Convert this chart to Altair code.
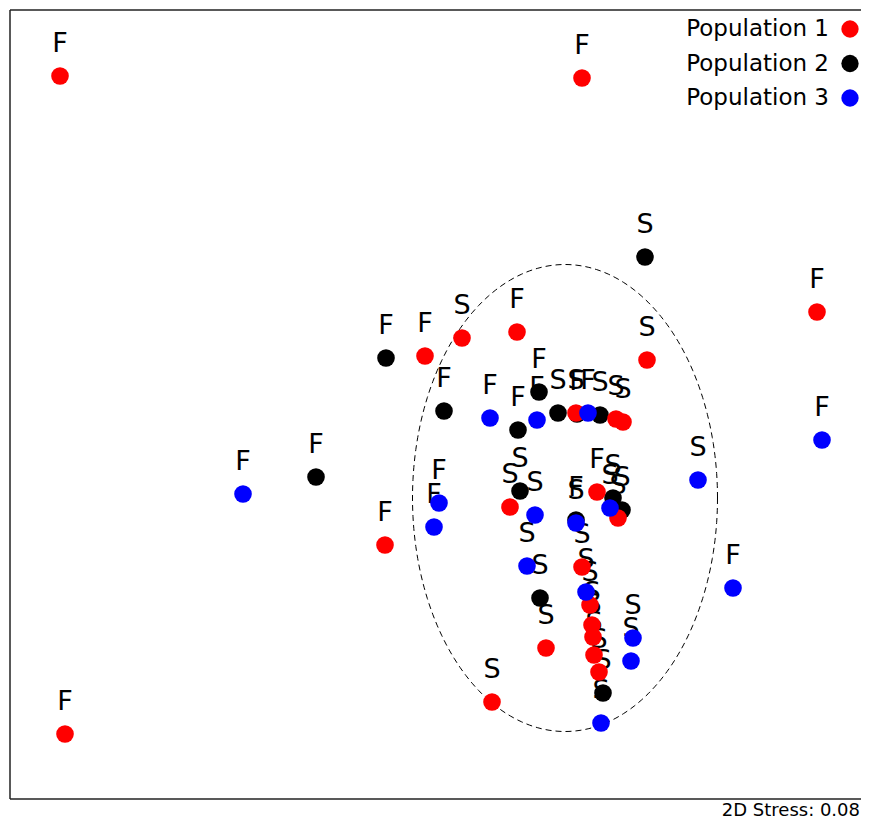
import altair as alt
import numpy as np
import pandas as pd

# NMDS coordinates
pop1_x = [-2.525, 0.085, 1.26, -2.50, -0.90, -0.70, -0.515, -0.24, 0.41, 0.055, 0.255, 0.29,
          -0.275, 0.16, 0.265, 0.085, 0.125, 0.135, 0.14, 0.145, 0.17, -0.095, -0.365]
pop1_y = [2.12, 2.11, 0.94, -1.17, -0.225, 0.72, 0.81, 0.84, 0.70, 0.435, 0.405, 0.39,
          -0.035, 0.04, -0.09, -0.335, -0.525, -0.625, -0.685, -0.775, -0.86, -0.74, -1.01]
pop1_lab = ["F", "F", "F", "F", "F", "F", "S", "F", "S", "S", "S", "S",
            "S", "F", "S", "S", "S", "S", "S", "S", "S", "S", "S"]

pop2_x = [0.40, -0.895, -1.245, -0.605, -0.13, -0.235, -0.035, 0.06, 0.175, -0.225, 0.055,
          0.24, 0.285, -0.125, 0.19]
pop2_y = [1.215, 0.71, 0.115, 0.445, 0.54, 0.35, 0.435, 0.43, 0.425, 0.045, -0.10,
          0.01, -0.05, -0.49, -0.965]
pop2_lab = ["S", "F", "F", "F", "F", "F", "S", "F", "S", "S", "F",
            "S", "S", "S", "S"]

pop3_x = [1.285, -1.61, -0.63, -0.655, -0.375, -0.14, 0.115, 0.665, 0.84, -0.15, 0.055,
          0.225, -0.19, 0.105, 0.34, 0.33, 0.18]
pop3_y = [0.30, 0.03, -0.015, -0.135, 0.41, 0.40, 0.435, 0.10, -0.44, -0.075, -0.115,
          -0.04, -0.33, -0.46, -0.69, -0.805, -1.115]
pop3_lab = ["F", "F", "F", "F", "F", "F", "F", "S", "F", "S", "S",
            "S", "S", "S", "S", "S", "S"]

groups = ["Population 1", "Population 2", "Population 3"]
group_colors = ["#ff0000", "#000000", "#0000ff"]

# ellipse (centre and semi-axes in NMDS units)
ell_cx, ell_cy, ell_rx, ell_ry = 0.0, 0.01, 0.7625, 1.1675
stress_text = ["2D Stress: 0.08"]

rows = []
for g, xs_, ys_, labs in [(groups[1], pop2_x, pop2_y, pop2_lab),
                          (groups[0], pop1_x, pop1_y, pop1_lab),
                          (groups[2], pop3_x, pop3_y, pop3_lab)]:
    for x, y, l in zip(xs_, ys_, labs):
        rows.append({"NMDS1": x, "NMDS2": y, "group": g, "season": l})
df = pd.DataFrame(rows)

t = np.linspace(0, 2 * np.pi, 241)
ell = pd.DataFrame({"NMDS1": ell_cx + ell_rx * np.cos(t),
                    "NMDS2": ell_cy + ell_ry * np.sin(t),
                    "i": np.arange(len(t))})

leg = pd.DataFrame({"group": groups})
stress = pd.DataFrame({"txt": stress_text})

W, H = 851, 789
xs = alt.Scale(domain=[-2.775, -2.775 + W / 200], nice=False, zero=False)
ys = alt.Scale(domain=[-1.495, -1.495 + H / 200], nice=False, zero=False)
cs = alt.Scale(domain=groups, range=group_colors)

X = alt.X("NMDS1:Q", scale=xs, axis=None)
Y = alt.Y("NMDS2:Q", scale=ys, axis=None)

frame_df = pd.DataFrame({"k": [0]})
frame_top = alt.Chart(frame_df).mark_rule(color="#222", strokeWidth=1.5).encode(
    x=alt.value(0), x2=alt.value(W), y=alt.value(0))
frame_bot = alt.Chart(frame_df).mark_rule(color="#222", strokeWidth=1.5).encode(
    x=alt.value(0), x2=alt.value(W), y=alt.value(H))
frame_left = alt.Chart(frame_df).mark_rule(color="#222", strokeWidth=1.5).encode(
    x=alt.value(0), y=alt.value(0), y2=alt.value(H))

ellipse = alt.Chart(ell).mark_line(color="#000", strokeWidth=1, strokeDash=[6, 4]).encode(
    x=X, y=Y, order="i:Q")

labels = alt.Chart(df).mark_text(font="DejaVu Sans", fontSize=27, color="#000",
                                 baseline="alphabetic", align="center", dy=-24).encode(
    x=X, y=Y, text="season:N")

points = alt.Chart(df).mark_circle(size=310, opacity=1).encode(
    x=X, y=Y, color=alt.Color("group:N", scale=cs, legend=None))

LY = alt.Y("group:N", scale=alt.Scale(type="point", domain=groups, range=[19, 88], padding=0), axis=None)
leg_text = alt.Chart(leg).mark_text(font="DejaVu Sans", fontSize=23, color="#000",
                                    align="right", baseline="middle").encode(
    x=alt.value(819), y=LY, text="group:N")
leg_dots = alt.Chart(leg).mark_circle(size=300, opacity=1).encode(
    x=alt.value(840), y=LY, color=alt.Color("group:N", scale=cs, legend=None))

stress_mark = alt.Chart(stress).mark_text(font="DejaVu Sans", fontSize=18, color="#000",
                                          align="right", baseline="alphabetic").encode(
    x=alt.value(W - 1), y=alt.value(H + 17), text="txt:N")

chart = alt.layer(frame_top, frame_bot, frame_left, ellipse, labels, points,
                  leg_text, leg_dots, stress_mark).resolve_scale(
    y="independent"
).properties(
    width=W, height=H,
    autosize=alt.AutoSizeParams(type="none"),
    padding={"left": 2, "top": 2, "right": 0, "bottom": 22},
).configure_view(stroke=None)

chart.save("out.html", embed_options={"renderer": "svg", "actions": False})
